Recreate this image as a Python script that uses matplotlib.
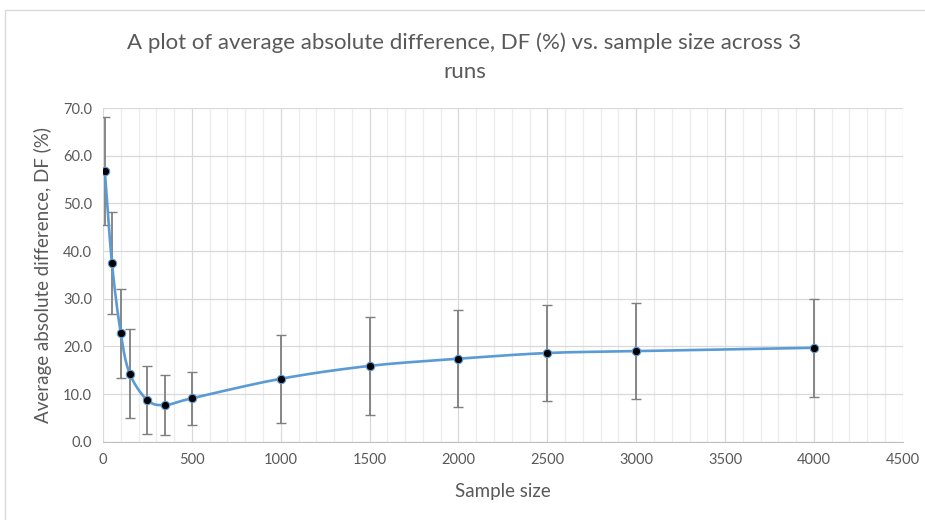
import numpy as np
import matplotlib.pyplot as plt
from matplotlib.patches import Rectangle
from matplotlib.ticker import MultipleLocator, FormatStrFormatter

plt.rcParams['font.family'] = ['Lato', 'DejaVu Sans']

# averages and spread over the 3 runs
sample_size = [10, 50, 100, 150, 250, 350, 500, 1000, 1500, 2000, 2500, 3000, 4000]
avg_df = [56.8, 37.5, 22.7, 14.3, 8.7, 7.7, 9.1, 13.2, 15.9, 17.4, 18.6, 19.0, 19.7]
err_df = [11.3, 10.7, 9.3, 9.3, 7.1, 6.2, 5.6, 9.2, 10.2, 10.2, 10.0, 10.0, 10.3]

TEXT = '#595959'
LINE = '#5b9bd5'


def smooth(x, y, n=40):
    # Catmull-Rom curve through the points, like a spreadsheet "smoothed line"
    p = np.column_stack([x, y]).astype(float)
    p = np.vstack([2 * p[0] - p[1], p, 2 * p[-1] - p[-2]])
    out = []
    t = np.linspace(0, 1, n)[:, None]
    for i in range(1, len(p) - 2):
        p0, p1, p2, p3 = p[i - 1], p[i], p[i + 1], p[i + 2]
        seg = 0.5 * ((2 * p1) + (-p0 + p2) * t + (2 * p0 - 5 * p1 + 4 * p2 - p3) * t ** 2
                     + (-p0 + 3 * p1 - 3 * p2 + p3) * t ** 3)
        out.append(seg)
    out = np.vstack(out)
    return out[:, 0], out[:, 1]


fig = plt.figure(figsize=(9.25, 5.2), dpi=100)
fig.patches.append(Rectangle((5 / 925, -0.05), 1.0, 1 - 10 / 520 + 0.05, transform=fig.transFigure,
                             fill=False, edgecolor='#d9d9d9', linewidth=1))
ax = fig.add_axes([0.1114, 0.1506, 0.8646, 0.6417])

sx, sy = smooth(sample_size, avg_df)
ax.plot(sx, sy, color=LINE, linewidth=1.9, zorder=3)
ax.errorbar(sample_size, avg_df, yerr=err_df, fmt='none', ecolor='#7f7f7f',
            elinewidth=1.3, capsize=3.5, capthick=1, zorder=2)
ax.plot(sample_size, avg_df, 'o', color='black', markeredgecolor=LINE,
        markeredgewidth=0.8, markersize=6, zorder=4)

ax.set_xlim(0, 4500)
ax.set_ylim(0, 70)
ax.xaxis.set_major_locator(MultipleLocator(500))
ax.xaxis.set_minor_locator(MultipleLocator(100))
ax.yaxis.set_major_locator(MultipleLocator(10))
ax.yaxis.set_major_formatter(FormatStrFormatter('%.1f'))
ax.grid(which='major', color='#d9d9d9', linewidth=0.9)
ax.grid(which='minor', axis='x', color='#ececec', linewidth=0.9)
ax.set_axisbelow(True)
ax.tick_params(which='both', length=0, colors=TEXT, labelsize=10.5, pad=8)

for side in ['top', 'right', 'left']:
    ax.spines[side].set_visible(False)
ax.spines['bottom'].set_color('#bfbfbf')

ax.set_xlabel('Sample size', fontsize=13.5, color=TEXT, labelpad=12)
ax.set_ylabel('Average absolute difference, DF (%)', fontsize=13.5, color=TEXT, labelpad=8)
fig.text(0.502, 0.89, 'A plot of average absolute difference, DF (%) vs. sample size across 3\nruns',
         ha='center', va='center', fontsize=16, color=TEXT, linespacing=1.55)

fig.savefig('out.png', dpi=100)
